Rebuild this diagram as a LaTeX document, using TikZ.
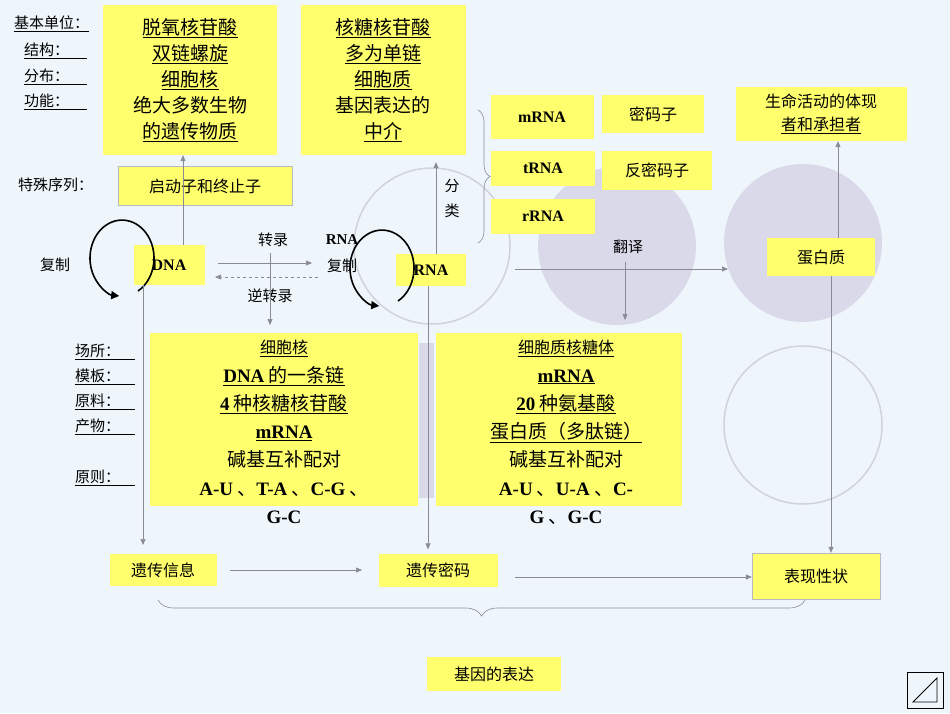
\documentclass[tikz,border=0pt]{standalone}
\usepackage{fontspec}
\setmainfont{Noto Sans CJK SC}
\newfontfamily\lat{Liberation Serif}
\usetikzlibrary{arrows.meta,decorations.pathreplacing,calc}
\definecolor{bg}{HTML}{EEF6FC}
\definecolor{boxy}{HTML}{FFFF6E}
\definecolor{lav}{HTML}{D9D9EA}
\definecolor{cir}{HTML}{D2D2DE}
\definecolor{ln}{HTML}{8A8A96}
\newcommand{\B}[1]{{\lat\bfseries #1}}
\newcommand{\U}[1]{\underline{#1}}
\begin{document}
\begin{tikzpicture}[x=1pt,y=-1pt,
  box/.style={fill=boxy,inner sep=0pt,align=center},
  t/.style={inner sep=0pt,align=center},
  con/.style={draw=ln,line width=0.6pt},
  arr/.style={con,-{Triangle[length=6pt,width=5pt]}},
  loop/.style={line width=1.6pt,-{Triangle[length=8pt,width=8pt]}}]
\useasboundingbox (0,0) rectangle (950,713);
\fill[bg] (0,0) rectangle (950,713);
% decorative circles
\fill[lav] (617,246) circle (79);
\fill[lav] (803,243) circle (79);
\draw[cir,line width=1.5pt] (432,246) circle (78);
\draw[cir,line width=1.5pt] (803,425) circle (79);
\fill[lav] (419,343) rectangle (434,498);
% boxes
\node[box,minimum width=174,minimum height=150,font=\fontsize{19}{26}\selectfont] (b1) at (190,80)
 {\U{脱氧核苷酸}\\\U{双链螺旋}\\\U{细胞核}\\绝大多数生物\\\U{的遗传物质}};
\node[box,minimum width=165,minimum height=150,font=\fontsize{19}{26}\selectfont] (b2) at (383,80)
 {\U{核糖核苷酸}\\\U{多为单链}\\\U{细胞质}\\基因表达的\\\U{中介}};
\node[box,draw=ln!60,line width=0.4pt,minimum width=174,minimum height=39,font=\fontsize{16}{18}\selectfont] (ts) at (205,186) {启动子和终止子};
\node[box,minimum width=71,minimum height=40,font=\fontsize{16}{18}\selectfont] (dna) at (169,265) {\B{DNA}};
\node[box,minimum width=70,minimum height=32,font=\fontsize{16}{18}\selectfont] (rna) at (431,270) {\B{RNA}};
\node[box,minimum width=103,minimum height=44,font=\fontsize{16}{18}\selectfont] (m) at (542,117) {\B{mRNA}};
\node[box,minimum width=102,minimum height=38,font=\fontsize{16}{18}\selectfont] (mm) at (653,114) {密码子};
\node[box,minimum width=104,minimum height=35,font=\fontsize{16}{18}\selectfont] (tr) at (543,168) {\B{tRNA}};
\node[box,minimum width=110,minimum height=39,font=\fontsize{16}{18}\selectfont] (fm) at (657,170) {反密码子};
\node[box,minimum width=104,minimum height=35,font=\fontsize{16}{18}\selectfont] (rr) at (543,216) {\B{rRNA}};
\node[box,minimum width=171,minimum height=54,font=\fontsize{16}{23}\selectfont] (sm) at (821,114) {生命活动的体现\\\U{者和承担者}};
\node[box,minimum width=108,minimum height=38,font=\fontsize{16}{18}\selectfont] (dbz) at (821,257) {蛋白质};
\node[box,minimum width=268,minimum height=173] (bb1) at (284,419) {};
\node[box,minimum width=246,minimum height=173] (bb2) at (559,419) {};
\node[t,anchor=north,font=\fontsize{19}{28.3}\selectfont] (tx1) at (284,340)
 {{\fontsize{16}{18}\selectfont\U{细胞核}}\\\U{\B{DNA} 的一条链}\\\U{\B{4} 种核糖核苷酸}\\\U{\B{mRNA}}\\碱基互补配对\\\B{A-U} 、\B{T-A} 、\B{C-G} 、\\\B{G-C}};
\node[t,anchor=north,font=\fontsize{19}{28.3}\selectfont] (tx2) at (566,340)
 {{\fontsize{16}{18}\selectfont\U{细胞质核糖体}}\\\U{\B{mRNA}}\\\U{\B{20} 种氨基酸}\\\U{蛋白质（多肽链）}\\碱基互补配对\\\B{A-U} 、\B{U-A} 、\B{C-}\\\B{G} 、\B{G-C}};
\node[box,minimum width=107,minimum height=32,font=\fontsize{16}{18}\selectfont] (yx) at (163,570) {遗传信息};
\node[box,minimum width=119,minimum height=33,font=\fontsize{16}{18}\selectfont] (ym) at (438,570) {遗传密码};
\node[box,draw=ln!60,line width=0.4pt,minimum width=128,minimum height=46,font=\fontsize{16}{18}\selectfont] (bx) at (816,576) {表现性状};
\node[box,minimum width=134,minimum height=34,font=\fontsize{16}{18}\selectfont] (jy) at (494,674) {基因的表达};
% left labels
\begin{scope}[font=\fontsize{15}{17}\selectfont]
\node[t,anchor=west] (l1) at (14,24) {\U{基本单位：}};
\node[t,anchor=west] (l2) at (24,51) {\U{结构：\hspace{1.2em}}};
\node[t,anchor=west] (l3) at (24,77) {\U{分布：\hspace{1.2em}}};
\node[t,anchor=west] (l4) at (24,102) {\U{功能：\hspace{1.2em}}};
\node[t,anchor=west] (l5) at (18,185) {特殊序列：};
\node[t] (fz) at (55,265) {复制};
\node[t,anchor=west] (p1) at (75,352) {\U{场所：\hspace{1em}}};
\node[t,anchor=west] (p2) at (75,377) {\U{模板：\hspace{1em}}};
\node[t,anchor=west] (p3) at (75,402) {\U{原料：\hspace{1em}}};
\node[t,anchor=west] (p4) at (75,427) {\U{产物：\hspace{1em}}};
\node[t,anchor=west] (p5) at (75,478) {\U{原则：\hspace{1em}}};
\node[t] (zl) at (273,240) {转录};
\node[t] (rf1) at (342,240) {\B{RNA}};
\node[t] (rf2) at (342,266) {复制};
\node[t] (nz) at (270,296) {逆转录};
\node[t] (fl1) at (452,186) {分};
\node[t] (fl2) at (452,211) {类};
\node[t] (fy) at (628,247) {翻译};
\end{scope}
% connectors
\draw[arr] (dna.north -| 183,0) -- (b1.south -| 183,0);
\draw[arr] (rna.north -| 436,0) -- ($(b2.south -| 436,0)+(0,7)$);
\draw[arr] (218,263) coordinate (c1) -- (312,263) coordinate (c2);
\draw[arr,dashed] (318,277) coordinate (c3) -- (215,277) coordinate (c4);
\draw[arr] (zl.south) ++(-3,6) coordinate (c5) -- (270,325) coordinate (c6);
\draw[loop] (138,291) arc[start angle=60,end angle=-265,x radius=32,y radius=38] coordinate (c7);
\draw[loop] (398,301) coordinate (c8) arc[start angle=60,end angle=-265,x radius=32,y radius=38];
\draw[arr] (515,269) coordinate (c9) -- (728,269) coordinate (c10);
\draw[arr] (625,262) coordinate (c11) -- (625,320) coordinate (c12);
\draw[arr] (dbz.north -| 838,0) -- (sm.south -| 838,0);
\draw[arr] (dbz.south -| 831,0) -- (bx.north -| 831,0);
\draw[arr] (dna.south -| 143,0) -- (143,545) coordinate (c13);
\draw[arr] (rna.south -| 428,0) -- ($(ym.north -| 428,0)-(0,4)$);
\draw[arr] (230,570) coordinate (c14) -- (362,570) coordinate (c15);
\draw[arr] (515,577) coordinate (c16) -- (bx.west |- 0,577);
\draw[ln,line width=0.6pt,decorate,decoration={brace,amplitude=12pt,mirror}] (478,243) coordinate (c17) -- (478,110) coordinate (c18);
\draw[ln,line width=0.6pt,decorate,decoration={brace,amplitude=16pt,mirror}] (158,600) coordinate (c19) -- (805,600) coordinate (c20);
% corner icon
\draw[line width=0.8pt] (907,672) rectangle (943,708);
\draw[line width=0.8pt] (913,702) -- (937,678) -- (937,702) -- cycle;
\end{tikzpicture}
\end{document}
